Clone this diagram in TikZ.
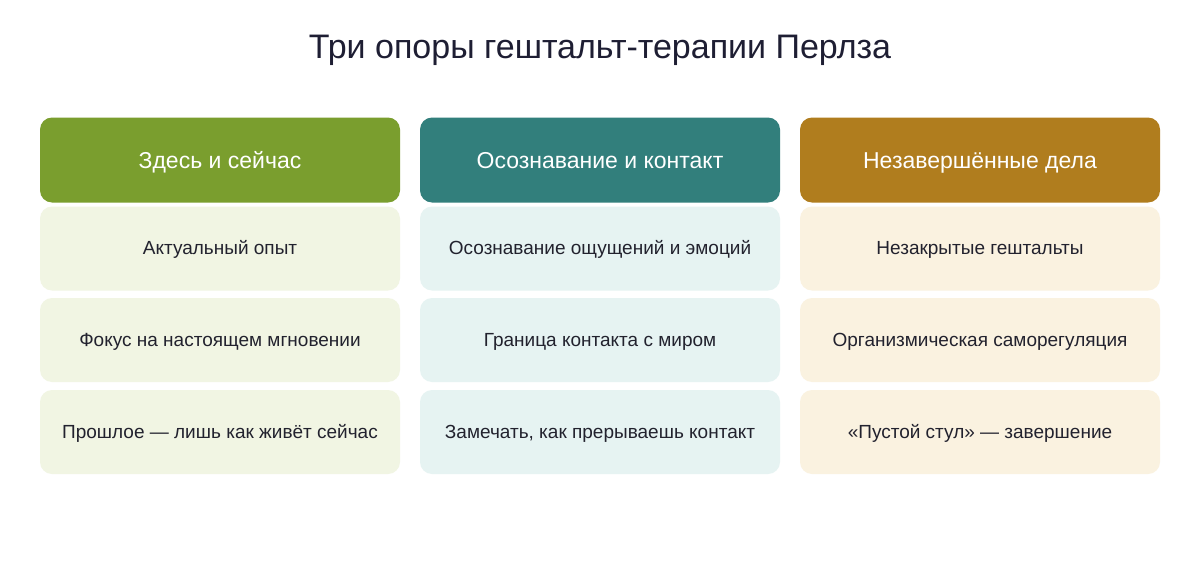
\documentclass[tikz,border=0pt]{standalone}
\usepackage{fontspec}
\setmainfont{Liberation Sans}
\definecolor{ttl}{HTML}{1E1E33}
\definecolor{txt}{HTML}{22222E}
\definecolor{hA}{HTML}{7A9E2E}
\definecolor{hB}{HTML}{327F7C}
\definecolor{hC}{HTML}{B07D1E}
\definecolor{lA}{HTML}{F1F5E3}
\definecolor{lB}{HTML}{E6F3F2}
\definecolor{lC}{HTML}{FAF2E0}
\tikzset{
  box/.style={rounded corners=12pt, minimum width=360pt, inner sep=0pt},
  hdr/.style={box, minimum height=85pt},
  cell/.style={box, minimum height=84pt},
  lbl/.style={inner sep=0pt, text height=0.72em, text depth=0.2em},
  hl/.style={lbl, text=white, font=\fontsize{23}{27}\selectfont, yshift=-5.5pt},
  cl/.style={lbl, text=txt, font=\fontsize{19}{23}\selectfont, yshift=-3.5pt},
}
\begin{document}
\begin{tikzpicture}[x=1pt,y=-1pt]
\useasboundingbox[fill=white] (0,0) rectangle (1200,562);
\node[lbl, text=ttl, font=\fontsize{34}{40}\selectfont] (title) at (600,56) {Три опоры гештальт-терапии Перлза};
\node[hdr, fill=hA] (h1) at (220,160) {};
\node[hdr, fill=hB] (h2) at (600,160) {};
\node[hdr, fill=hC] (h3) at (980,160) {};
\node[cell, fill=lA] (a1) at (220,248.5) {};
\node[cell, fill=lA] (a2) at (220,340) {};
\node[cell, fill=lA] (a3) at (220,432) {};
\node[cell, fill=lB] (b1) at (600,248.5) {};
\node[cell, fill=lB] (b2) at (600,340) {};
\node[cell, fill=lB] (b3) at (600,432) {};
\node[cell, fill=lC] (c1) at (980,248.5) {};
\node[cell, fill=lC] (c2) at (980,340) {};
\node[cell, fill=lC] (c3) at (980,432) {};
\node[hl] (th1) at (h1) {Здесь и сейчас};
\node[hl] (th2) at (h2) {Осознавание и контакт};
\node[hl] (th3) at (h3) {Незавершённые дела};
\node[cl] (ta1) at (a1) {Актуальный опыт};
\node[cl] (ta2) at (a2) {Фокус на настоящем мгновении};
\node[cl] (ta3) at (a3) {Прошлое — лишь как живёт сейчас};
\node[cl] (tb1) at (b1) {Осознавание ощущений и эмоций};
\node[cl] (tb2) at (b2) {Граница контакта с миром};
\node[cl] (tb3) at (b3) {Замечать, как прерываешь контакт};
\node[cl] (tc1) at (c1) {Незакрытые гештальты};
\node[cl] (tc2) at (c2) {Организмическая саморегуляция};
\node[cl] (tc3) at (c3) {«Пустой стул» — завершение};
\end{tikzpicture}
\end{document}
